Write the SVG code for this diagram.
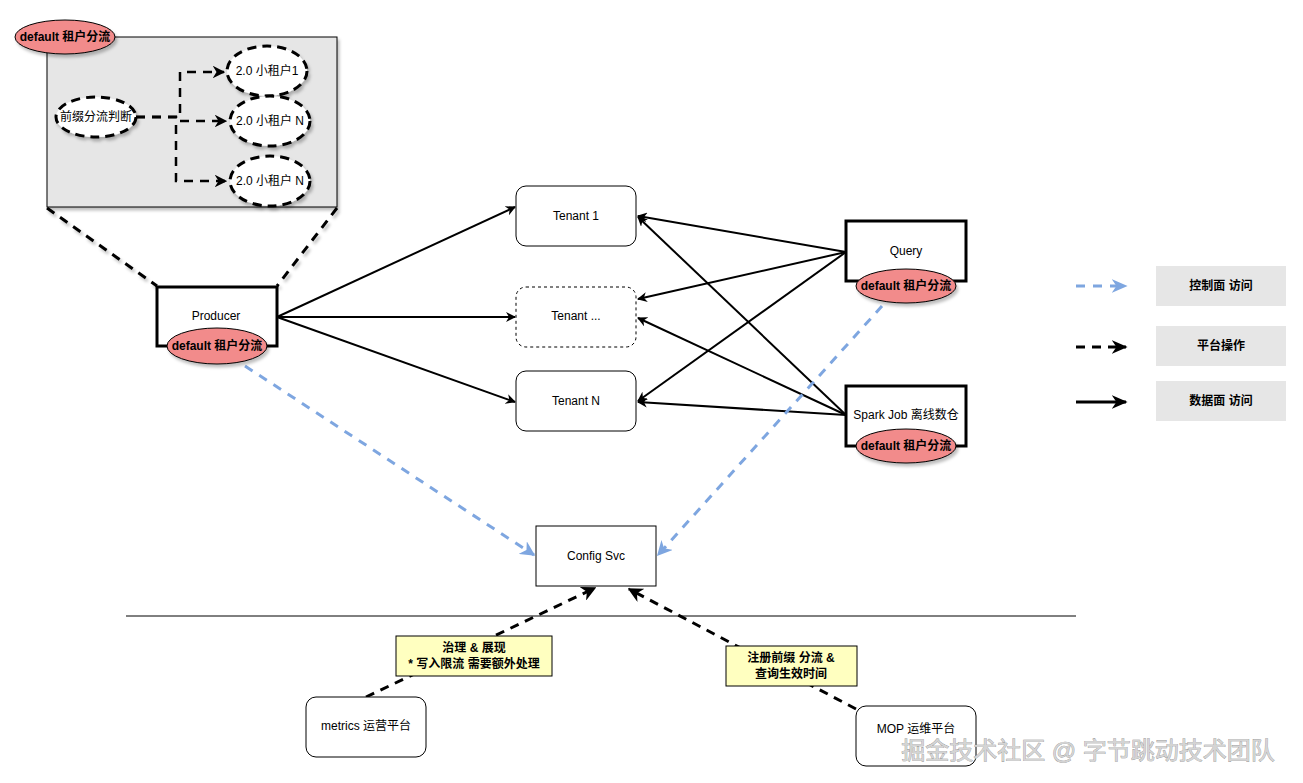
<svg xmlns="http://www.w3.org/2000/svg" width="1303" height="783" viewBox="0 0 1303 783">
<style>
text{font-family:"Liberation Sans","Noto Sans CJK SC",sans-serif;font-size:12px;fill:#000;text-anchor:middle;dominant-baseline:central}
.b{font-weight:bold}
.box{fill:#fff;stroke:#000;stroke-width:1}
.thick{fill:#fff;stroke:#000;stroke-width:3}
.tag{fill:#f28b8b;stroke:#000;stroke-width:1}
.dov{fill:#fff;stroke:#000;stroke-width:3;stroke-dasharray:9 6}
.data{fill:none;stroke:#000;stroke-width:2}
.plat{fill:none;stroke:#000;stroke-width:3;stroke-dasharray:9 7}
.ctrl{fill:none;stroke:#7ea6e0;stroke-width:3;stroke-dasharray:9 8}
.leg{fill:#e6e6e6;stroke:none}
.note{fill:#ffffc0;stroke:#000;stroke-width:1}
</style>
<defs>
<marker id="ab2" viewBox="0 0 10 10" refX="9" refY="5" markerWidth="5" markerHeight="5" orient="auto"><path d="M0,0 L10,5 L0,10 L3,5 z" fill="#000"/></marker>
<marker id="abl" viewBox="0 0 10 10" refX="9" refY="5" markerWidth="5" markerHeight="5" orient="auto"><path d="M0,0 L10,5 L0,10 L3,5 z" fill="#7ea6e0"/></marker>
<marker id="big" viewBox="0 0 10 10" refX="9" refY="5" markerWidth="16" markerHeight="14" orient="auto" markerUnits="userSpaceOnUse" preserveAspectRatio="none"><path d="M0,0 L10,5 L0,10 L3,5 z" fill="#000"/></marker>
<marker id="bigl" viewBox="0 0 10 10" refX="9" refY="5" markerWidth="16" markerHeight="14" orient="auto" markerUnits="userSpaceOnUse" preserveAspectRatio="none"><path d="M0,0 L10,5 L0,10 L3,5 z" fill="#7ea6e0"/></marker>
<filter id="sh" x="-20%" y="-20%" width="150%" height="150%"><feDropShadow dx="2" dy="3" stdDeviation="1.5" flood-color="#000" flood-opacity="0.25"/></filter>
</defs>

<g id="zoom-box">
<rect x="47" y="37" width="290" height="170" fill="#e6e6e6" stroke="#000" stroke-width="1" filter="url(#sh)"/>
</g>

<g id="connectors">
<line class="plat" x1="47" y1="208" x2="157" y2="286" filter="url(#sh)"/>
<line class="plat" x1="337" y1="208" x2="277" y2="286" filter="url(#sh)"/>
<path class="plat" d="M136,117 H180 V72 H224" marker-end="url(#ab2)" style="stroke-width:2.5"/>
<path class="plat" d="M136,117 H180 V121 H226" marker-end="url(#ab2)" style="stroke-width:2.5"/>
<path class="plat" d="M136,117 H176 V181 H226" marker-end="url(#ab2)" style="stroke-width:2.5"/>
<line class="data" x1="277" y1="317" x2="515" y2="207" marker-end="url(#ab2)"/>
<line class="data" x1="277" y1="317" x2="515" y2="317" marker-end="url(#ab2)"/>
<line class="data" x1="277" y1="317" x2="515" y2="402" marker-end="url(#ab2)"/>
<line class="data" x1="846" y1="252" x2="638" y2="216" marker-end="url(#ab2)"/>
<line class="data" x1="846" y1="252" x2="638" y2="299" marker-end="url(#ab2)"/>
<line class="data" x1="846" y1="252" x2="638" y2="401" marker-end="url(#ab2)"/>
<line class="data" x1="846" y1="415" x2="638" y2="217" marker-end="url(#ab2)"/>
<line class="data" x1="846" y1="415" x2="638" y2="318" marker-end="url(#ab2)"/>
<line class="data" x1="846" y1="415" x2="638" y2="402" marker-end="url(#ab2)"/>
<line class="ctrl" x1="245" y1="366" x2="534" y2="555" marker-end="url(#abl)"/>
<line class="ctrl" x1="882" y1="306" x2="658" y2="555" marker-end="url(#abl)"/>
<line class="plat" x1="366" y1="697" x2="595" y2="588" marker-end="url(#ab2)"/>
<line class="plat" x1="856" y1="709" x2="629" y2="589" marker-end="url(#ab2)"/>
<line x1="126" y1="616" x2="1076" y2="616" stroke="#000" stroke-width="1"/>
<line class="ctrl" x1="1076" y1="286" x2="1126" y2="286" marker-end="url(#bigl)"/>
<line class="plat" x1="1076" y1="347" x2="1126" y2="347" marker-end="url(#big)"/>
<line class="data" x1="1076" y1="402" x2="1126" y2="402" marker-end="url(#big)" style="stroke-width:3"/>
</g>

<g id="zoom-tag">
<ellipse class="tag" cx="65" cy="37" rx="50" ry="17" filter="url(#sh)"/>
<text class="b" x="65" y="37">default 租户分流</text>
</g>
<g id="prefix-judge">
<ellipse class="dov" cx="96" cy="117" rx="40" ry="20" filter="url(#sh)"/>
<text x="96" y="117">前缀分流判断</text>
</g>
<g id="small-tenant-1">
<ellipse class="dov" cx="267" cy="71" rx="40" ry="25" filter="url(#sh)"/>
<text x="267" y="71">2.0 小租户1</text>
</g>
<g id="small-tenant-n1">
<ellipse class="dov" cx="270" cy="121" rx="40" ry="25" filter="url(#sh)"/>
<text x="270" y="121">2.0 小租户 N</text>
</g>
<g id="small-tenant-n2">
<ellipse class="dov" cx="270" cy="181" rx="40" ry="25" filter="url(#sh)"/>
<text x="270" y="181">2.0 小租户 N</text>
</g>

<g id="producer">
<rect class="thick" x="157" y="287" width="120" height="59"/>
<text x="216" y="316">Producer</text>
<ellipse class="tag" cx="217" cy="346" rx="50" ry="18" filter="url(#sh)"/>
<text class="b" x="217" y="346">default 租户分流</text>
</g>

<g id="tenant-1">
<rect class="box" x="516" y="186" width="120" height="60" rx="10"/>
<text x="576" y="216">Tenant 1</text>
</g>
<g id="tenant-dots">
<rect class="box" x="516" y="287" width="120" height="60" rx="10" stroke-dasharray="3 3"/>
<text x="576" y="316">Tenant ...</text>
</g>
<g id="tenant-n">
<rect class="box" x="516" y="371" width="120" height="60" rx="10"/>
<text x="576" y="401">Tenant N</text>
</g>

<g id="query">
<rect class="thick" x="846" y="221" width="120" height="60"/>
<text x="906" y="251">Query</text>
<ellipse class="tag" cx="906" cy="286" rx="50" ry="17" filter="url(#sh)"/>
<text class="b" x="906" y="286">default 租户分流</text>
</g>

<g id="spark">
<rect class="thick" x="846" y="386" width="120" height="60"/>
<text x="906" y="415">Spark Job 离线数仓</text>
<ellipse class="tag" cx="906" cy="446" rx="50" ry="17" filter="url(#sh)"/>
<text class="b" x="906" y="446">default 租户分流</text>
</g>

<g id="config-svc">
<rect class="box" x="536" y="526" width="120" height="60"/>
<text x="596" y="556">Config Svc</text>
</g>

<g id="label-metrics">
<rect class="note" x="396" y="636" width="156" height="40"/>
<text class="b" x="474" y="648">治理 &amp; 展现</text>
<text class="b" x="474" y="664">* 写入限流 需要额外处理</text>
</g>
<g id="label-mop">
<rect class="note" x="726" y="646" width="131" height="40"/>
<text class="b" x="791" y="658">注册前缀 分流 &amp;</text>
<text class="b" x="791" y="674">查询生效时间</text>
</g>

<g id="metrics">
<rect class="box" x="306" y="697" width="120" height="60" rx="10"/>
<text x="366" y="726">metrics 运营平台</text>
</g>
<g id="mop">
<rect class="box" x="856" y="706" width="120" height="60" rx="10"/>
<text x="916" y="729">MOP 运维平台</text>
</g>

<g id="legend">
<rect class="leg" x="1156" y="266" width="130" height="40"/>
<text class="b" x="1221" y="286">控制面 访问</text>
<rect class="leg" x="1156" y="326" width="130" height="40"/>
<text class="b" x="1221" y="346">平台操作</text>
<rect class="leg" x="1156" y="381" width="130" height="40"/>
<text class="b" x="1221" y="401">数据面 访问</text>
</g>

<g id="watermark">
<text x="1088" y="750" style="font-size:24px;fill:#d4d4d4;stroke:#888;stroke-width:0.6;paint-order:stroke">掘金技术社区 @ 字节跳动技术团队</text>
</g>
</svg>
